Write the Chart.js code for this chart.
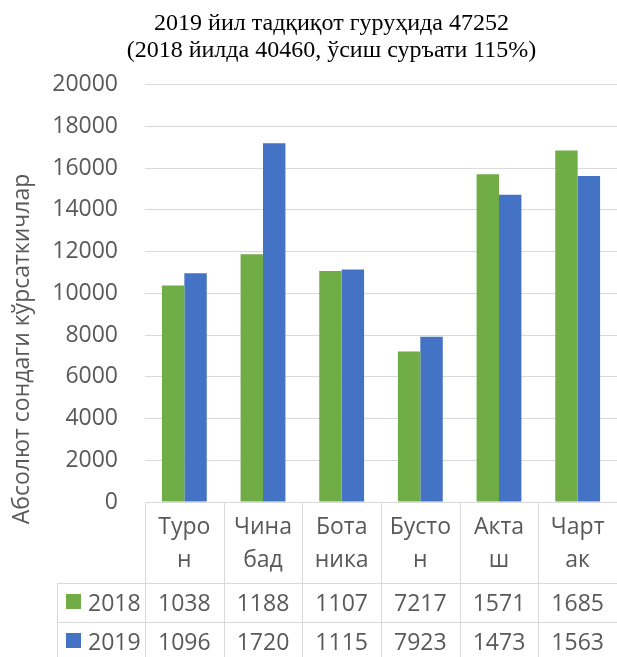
<!DOCTYPE html>
<html>
<head>
<meta charset="utf-8">
<script src="https://cdn.jsdelivr.net/npm/chart.js@4/dist/chart.umd.min.js"></script>
<style>
  html, body { margin: 0; padding: 0; background: #fff; }
</style>
</head>
<body>
<canvas id="reportCanvas" width="617" height="657"></canvas>
<script>
// data
const categories = [["Туро", "н"], ["Чина", "бад"], ["Бота", "ника"], ["Бусто", "н"], ["Акта", "ш"], ["Чарт", "ак"]];
const seriesNames = ["2018", "2019"];
const values2018 = [10380, 11880, 11070, 7217, 15710, 16850];
const values2019 = [10960, 17200, 11150, 7923, 14730, 15630];
const titleLines = ["2019 йил тадқиқот гуруҳида 47252", "(2018 йилда 40460, ўсиш суръати 115%)"];
const yTitle = "Абсолют сондаги кўрсаткичлар";
const yMin = 0, yMax = 20000, yStep = 2000;

const colors = ["#70AD47", "#4472C4"];
const textColor = "#595959";
const lineColor = "#d9d9d9";
const sansFont = "'Open Sans', sans-serif";

// Excel style data table under the axis + rotated axis title
const tablePlugin = {
  id: "dataTable",
  afterDraw(chart) {
    const ctx = chart.ctx;
    const x = chart.scales.x;
    const area = chart.chartArea;
    const n = categories.length;

    let edges = [area.left];
    for (let i = 1; i < n; i++) {
      edges.push((x.getPixelForValue(i - 1) + x.getPixelForValue(i)) / 2);
    }
    edges.push(area.right);

    const top = Math.round(area.bottom);
    const row1 = top + 81;
    const row2 = row1 + 39;
    const bottom = row2 + 39;
    const legendLeft = 57;

    ctx.save();
    ctx.strokeStyle = lineColor;
    ctx.lineWidth = 1;
    ctx.beginPath();
    // horizontal lines
    ctx.moveTo(area.left, top + 0.5); ctx.lineTo(area.right, top + 0.5);
    [row1, row2, bottom].forEach(y => {
      ctx.moveTo(legendLeft, y + 0.5); ctx.lineTo(area.right, y + 0.5);
    });
    // vertical lines
    edges.forEach(ex => {
      const px = Math.round(ex) + 0.5;
      ctx.moveTo(px, top); ctx.lineTo(px, bottom);
    });
    ctx.moveTo(legendLeft + 0.5, row1); ctx.lineTo(legendLeft + 0.5, bottom);
    ctx.stroke();

    ctx.fillStyle = textColor;
    ctx.font = "23px " + sansFont;
    ctx.textAlign = "center";
    ctx.textBaseline = "alphabetic";
    categories.forEach((lines, i) => {
      const cx = x.getPixelForValue(i);
      ctx.fillText(lines[0], cx, top + 32);
      ctx.fillText(lines[1], cx, top + 65);
    });

    const rows = [values2018, values2019];
    rows.forEach((vals, r) => {
      const rowTop = r === 0 ? row1 : row2;
      // legend key
      ctx.fillStyle = colors[r];
      ctx.fillRect(66, rowTop + 11, 15, 15);
      ctx.fillStyle = textColor;
      ctx.textAlign = "left";
      ctx.fillText(seriesNames[r], 88, rowTop + 28);
      ctx.textAlign = "center";
      vals.forEach((v, i) => {
        // the cell is too narrow in the original, only the first 4 digits show
        ctx.fillText(String(v).slice(0, 4), x.getPixelForValue(i), rowTop + 28);
      });
    });

    // y axis title
    ctx.translate(22, 349);
    ctx.rotate(-Math.PI / 2);
    ctx.textAlign = "center";
    ctx.textBaseline = "middle";
    ctx.fillText(yTitle, 0, 0);
    ctx.restore();
  }
};

const canvas = document.getElementById("reportCanvas");

const chartData = {
  labels: categories,
  datasets: [
    { label: seriesNames[0], data: values2018, backgroundColor: colors[0], borderWidth: 0 },
    { label: seriesNames[1], data: values2019, backgroundColor: colors[1], borderWidth: 0 },
  ],
};

const chartConfig = {
  type: "bar",
  data: chartData,
  options: {
    responsive: false,
    animation: false,
    layout: { padding: { left: 44, right: -2, top: 0, bottom: 155 } },
    datasets: { bar: { categoryPercentage: 0.57, barPercentage: 1.0 } },
    scales: {
      x: { display: false },
      y: {
        min: yMin,
        max: yMax,
        ticks: {
          stepSize: yStep,
          padding: 27,
          color: textColor,
          font: { family: sansFont, size: 23 },
          callback: (v) => String(v),
        },
        grid: { color: lineColor, drawTicks: false },
        border: { display: false },
        afterFit(scale) { scale.width = 101; },
      },
    },
    plugins: {
      legend: { display: false },
      tooltip: { enabled: false },
      title: {
        display: true,
        text: titleLines,
        color: "#000",
        font: { family: "'Liberation Serif', 'Times New Roman', serif", size: 24, weight: "normal", lineHeight: 1.12 },
        padding: { top: 10, bottom: 21 },
      },
    },
  },
  plugins: [tablePlugin],
};

const myBarChart = new Chart(canvas, chartConfig);
</script>
</body>
</html>
